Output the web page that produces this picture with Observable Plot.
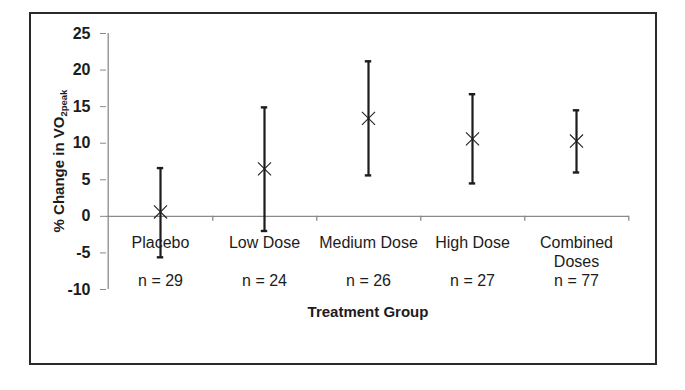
<!DOCTYPE html>
<html>
<head>
<meta charset="utf-8">
<script src="https://cdn.jsdelivr.net/npm/d3@7"></script>
<script src="https://cdn.jsdelivr.net/npm/@observablehq/plot@0.6"></script>
<style>
  html, body { margin: 0; padding: 0; background: #fff; }
  #wrap { position: relative; width: 685px; height: 390px; overflow: hidden; background: #fff; }
  #frame { position: absolute; left: 29px; top: 12px; width: 624px; height: 349px; border: 2px solid #2a2a2a; pointer-events: none; }
</style>
</head>
<body>
<div id="wrap"><div id="frame"></div></div>
<script>
// ---- data ----
const groups = ["Placebo", "Low Dose", "Medium Dose", "High Dose", "Combined Doses"];
const groupLabels = ["Placebo", "Low Dose", "Medium Dose", "High Dose", "Combined\nDoses"];
const nLabels = ["n = 29", "n = 24", "n = 26", "n = 27", "n = 77"];
const meanChange = [0.6, 6.5, 13.4, 10.6, 10.3];
const upperBound = [6.6, 14.9, 21.2, 16.7, 14.5];
const lowerBound = [-5.6, -2.0, 5.6, 4.5, 6.0];
const yTicks = [-10, -5, 0, 5, 10, 15, 20, 25];
const yLabelMain = "% Change in VO";
const yLabelSub = "2peak";
const xLabel = "Treatment Group";

const data = groups.map((g, i) => ({
  group: g, label: groupLabels[i], n: nLabels[i],
  mean: meanChange[i], hi: upperBound[i], lo: lowerBound[i]
}));

const W = 685, H = 390, ML = 106, MR = 56, MT = 33, MB = 101;
const bw = (W - ML - MR) / groups.length;
const axisGray = "#8a8a8a";
const ink = "#1c1c1c";
const font = "'Liberation Sans', Arial, Helvetica, sans-serif";

const chart = Plot.plot({
  width: W, height: H,
  marginLeft: ML, marginRight: MR, marginTop: MT, marginBottom: MB,
  style: { fontFamily: font, background: "transparent", color: ink },
  x: { type: "band", domain: groups, padding: 0, axis: null },
  y: { domain: [-10, 25] },
  marks: [
    Plot.axisY(yTicks, { tickSize: 6, tickPadding: 10, fontSize: 16, fontWeight: "bold", stroke: axisGray, fill: ink, label: null, tickFormat: d => String(d) }),
    Plot.ruleX([groups[0]], { dx: -bw / 2, stroke: axisGray, strokeWidth: 1.3 }),
    Plot.ruleY([0], { stroke: axisGray, strokeWidth: 1.3 }),
    Plot.ruleX(groups, { x: d => d, y1: 0, y2: 0, dx: bw / 2, insetBottom: -5, stroke: axisGray, strokeWidth: 1.3 }),
    Plot.ruleX(data, { x: "group", y1: "lo", y2: "hi", stroke: ink, strokeWidth: 2.2 }),
    Plot.tickY(data, { x: "group", y: "hi", insetLeft: bw / 2 - 3.5, insetRight: bw / 2 - 3.5, stroke: ink, strokeWidth: 2.4 }),
    Plot.tickY(data, { x: "group", y: "lo", insetLeft: bw / 2 - 3.5, insetRight: bw / 2 - 3.5, stroke: ink, strokeWidth: 2.4 }),
    Plot.dot(data, { x: "group", y: "mean", symbol: "times", r: 6, stroke: "#222", strokeWidth: 1.1 }),
    Plot.text(data, { x: "group", y: 0, text: "label", dy: 18, lineAnchor: "top", lineHeight: 1.2, fontSize: 16, fill: ink }),
    Plot.text(data, { x: "group", y: 0, text: "n", dy: 58, lineAnchor: "top", fontSize: 16, fill: ink }),
    Plot.text([xLabel], { frameAnchor: "bottom", dy: 27, fontSize: 15, fontWeight: "bold", fill: ink })
  ]
});

// rotated y label with subscript
const svg = d3.select(chart);
const t = svg.append("text")
  .attr("transform", "translate(64,161) rotate(-90)")
  .attr("text-anchor", "middle")
  .attr("font-family", font)
  .attr("font-size", 15)
  .attr("font-weight", "bold")
  .attr("fill", ink);
t.append("tspan").text(yLabelMain);
t.append("tspan").attr("font-size", 9.5).attr("dy", 3).text(yLabelSub);

document.getElementById("wrap").insertBefore(chart, document.getElementById("frame"));
</script>
</body>
</html>
